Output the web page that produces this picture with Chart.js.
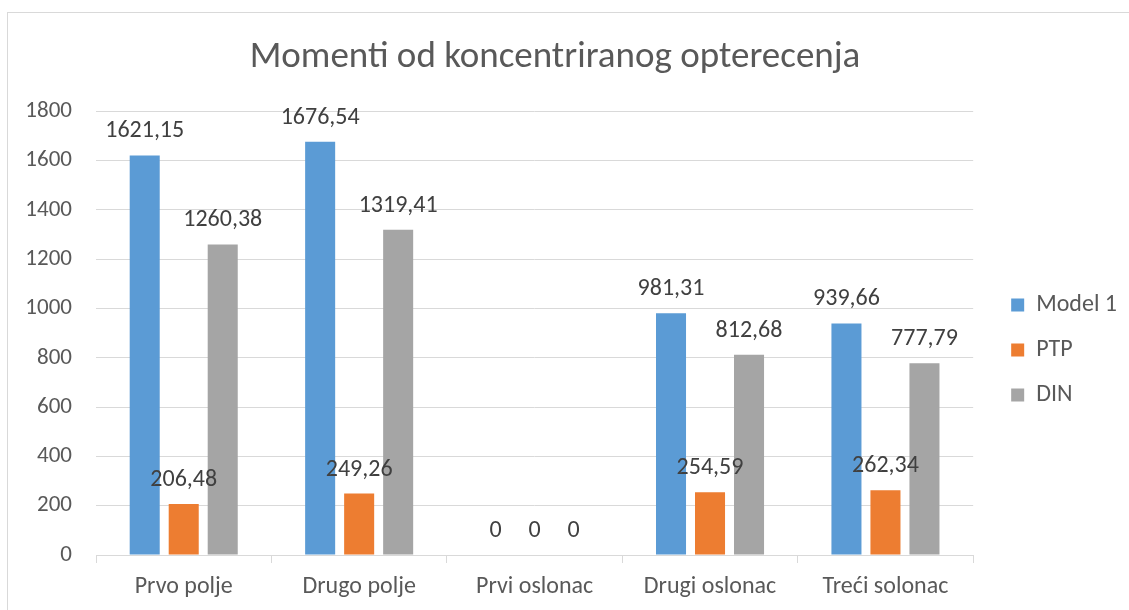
<!DOCTYPE html>
<html>
<head>
<meta charset="utf-8">
<script src="https://cdn.jsdelivr.net/npm/chart.js@4/dist/chart.umd.min.js"></script>
<style>
    body { margin: 0; background: #fff; }
    #wrap { position: relative; width: 1129px; height: 610px; }
</style>
</head>
<body>
<div id="wrap"><canvas id="grafico" width="1129" height="610"></canvas></div>
<script>
// Datos del grafico
const kategorije = ['Prvo polje', 'Drugo polje', 'Prvi oslonac', 'Drugi oslonac', 'Treći solonac'];
const model1 = [1621.15, 1676.54, 0, 981.31, 939.66];
const ptp = [206.48, 249.26, 0, 254.59, 262.34];
const din = [1260.38, 1319.41, 0, 812.68, 777.79];
const yTicks = [0, 200, 400, 600, 800, 1000, 1200, 1400, 1600, 1800];

const FONT = 'Calibri, Carlito, "Open Sans", sans-serif';
const SIVA = '#595959';

// Etiquetas de valores encima de las barras
const etiquetas = {
    id: 'etiquetas',
    afterDatasetsDraw(chart) {
        const ctx = chart.ctx;
        ctx.save();
        ctx.font = '24px ' + FONT;
        ctx.fillStyle = '#404040';
        ctx.textAlign = 'center';
        ctx.textBaseline = 'middle';
        chart.data.datasets.forEach((ds, i) => {
            chart.getDatasetMeta(i).data.forEach((bar, j) => {
                const txt = String(ds.data[j]).replace('.', ',');
                ctx.fillText(txt, bar.x, bar.y - 24);
            });
        });
        ctx.restore();
    }
};

// Marco del grafico y ajuste de la leyenda
const marco = {
    id: 'marco',
    afterLayout(chart) {
        const L = chart.legend;
        const w = L.right - L.left, h = L.bottom - L.top;
        L.left = chart.chartArea.right + 17;
        L.right = L.left + w;
        L.top = 293 - (h - 114) / 2;
        L.bottom = L.top + h;
    },
    beforeDraw(chart) {
        const ctx = chart.ctx;
        ctx.save();
        ctx.fillStyle = '#fff';
        ctx.fillRect(0, 0, chart.width, chart.height);
        ctx.strokeStyle = '#d9d9d9';
        ctx.lineWidth = 1;
        ctx.strokeRect(7.5, 12.5, chart.width + 20, chart.height + 20);
        ctx.restore();
    }
};

new Chart(document.getElementById('grafico').getContext('2d'), {
    type: 'bar',
    data: {
        labels: kategorije,
        datasets: [
            { label: 'Model 1', data: model1, backgroundColor: '#5B9BD5' },
            { label: 'PTP', data: ptp, backgroundColor: '#ED7D31' },
            { label: 'DIN', data: din, backgroundColor: '#A5A5A5' }
        ]
    },
    options: {
        responsive: false,
        animation: false,
        devicePixelRatio: 1,
        categoryPercentage: 0.667,
        barPercentage: 0.77,
        layout: { padding: { left: 0, right: 19, top: 0, bottom: 0 } },
        plugins: {
            title: {
                display: true,
                text: 'Momenti od koncentriranog opterecenja',
                color: SIVA,
                font: { family: FONT, size: 37, weight: 'normal' },
                padding: { top: 36, bottom: 31 }
            },
            legend: {
                position: 'right',
                labels: {
                    color: SIVA,
                    font: { family: FONT, size: 24 },
                    boxWidth: 13,
                    boxHeight: 13,
                    padding: 21
                }
            },
            tooltip: { enabled: false }
        },
        scales: {
            x: {
                grid: { drawOnChartArea: false, color: '#d9d9d9', tickLength: 8 },
                border: { color: '#d9d9d9' },
                ticks: { color: SIVA, font: { family: FONT, size: 24 }, padding: 10 },
                afterFit(scale) { scale.height = 55; }
            },
            y: {
                min: 0,
                max: 1800,
                afterBuildTicks(scale) { scale.ticks = yTicks.map(v => ({ value: v })); },
                grid: { color: '#d9d9d9', drawTicks: false },
                border: { display: false },
                ticks: {
                    color: SIVA,
                    font: { family: FONT, size: 23 },
                    padding: 24,
                    callback: v => String(v)
                },
                afterFit(scale) { scale.width = 96; }
            }
        }
    },
    plugins: [etiquetas, marco]
});
</script>
</body>
</html>
